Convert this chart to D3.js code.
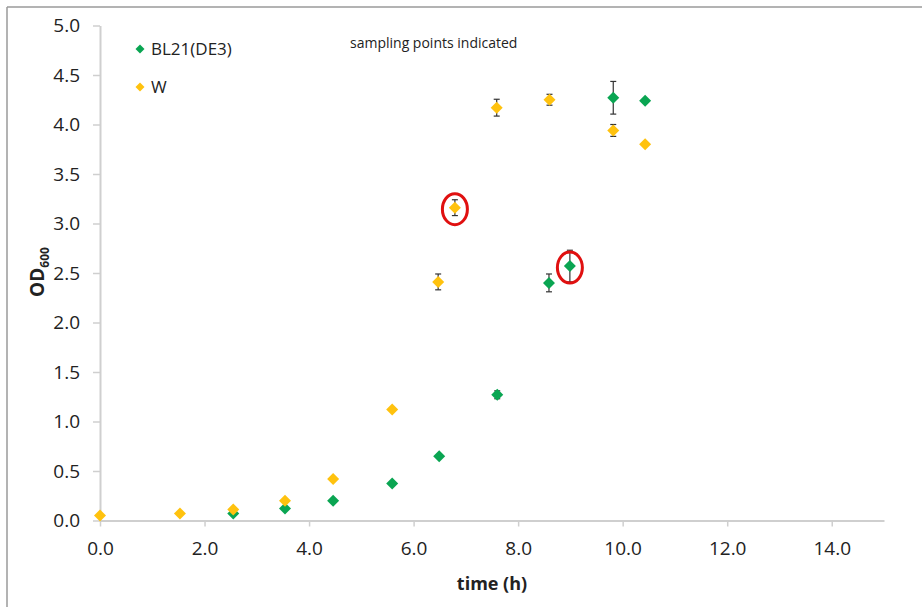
<!DOCTYPE html>
<html>
<head>
<meta charset="utf-8">
<script src="https://cdn.jsdelivr.net/npm/d3@7"></script>
<style>
  body { margin: 0; background: #fff; }
  svg { display: block; font-family: "Open Sans", sans-serif; }
</style>
</head>
<body>
<div id="chart"></div>
<script>
// OD600 over time, two strains
const blTime = [2.55, 3.54, 4.46, 5.59, 6.49, 7.6, 8.59, 8.99, 9.82, 10.43]
const blOD   = [0.07, 0.12, 0.20, 0.375, 0.65, 1.27, 2.40, 2.57, 4.27, 4.24]
const blErr  = [0, 0, 0, 0, 0, 0.04, 0.09, 0.16, 0.165, 0]

const wTime = [0, 1.53, 2.55, 3.54, 4.46, 5.59, 6.47, 6.79, 7.59, 8.6, 9.82, 10.43]
const wOD   = [0.05, 0.07, 0.11, 0.20, 0.42, 1.12, 2.41, 3.16, 4.17, 4.25, 3.94, 3.80]
const wErr  = [0, 0, 0, 0, 0, 0, 0.08, 0.08, 0.085, 0.055, 0.06, 0]

// circled sampling points: [series, index]
const sampled = [["W", 7], ["BL21(DE3)", 7]]

const xTicks = [0, 2, 4, 6, 8, 10, 12, 14]
const yTicks = [0, 0.5, 1, 1.5, 2, 2.5, 3, 3.5, 4, 4.5, 5]

const series = [
  {name: "BL21(DE3)", color: "#0aa552", time: blTime, od: blOD, err: blErr},
  {name: "W", color: "#ffc20e", time: wTime, od: wOD, err: wErr}
]

const width = 922, height = 607
const margin = {top: 25.5, right: 38, bottom: 86.5, left: 100}

const svg = d3.select("#chart").append("svg")
  .attr("width", width)
  .attr("height", height)

// outer frame (cut off at right/bottom)
svg.append("line").attr("x1", 7).attr("x2", width).attr("y1", 7).attr("y2", 7)
  .attr("stroke", "#9a9a9a").attr("stroke-width", 1.5)
svg.append("line").attr("x1", 7).attr("x2", 7).attr("y1", 7).attr("y2", height)
  .attr("stroke", "#9a9a9a").attr("stroke-width", 1.5)

const x = d3.scaleLinear().domain([0, 15]).range([margin.left, width - margin.right])
const y = d3.scaleLinear().domain([0, 5]).range([height - margin.bottom, margin.top])

const axisColor = "#cfcfcf"

const gX = svg.append("g")
  .attr("transform", `translate(0,${y(0)})`)
  .call(d3.axisBottom(x).tickValues(xTicks).tickFormat(d3.format(".1f")).tickSize(6).tickSizeOuter(0))
gX.select(".domain").attr("stroke", axisColor).attr("stroke-width", 2)
gX.selectAll(".tick line").attr("stroke", axisColor).attr("stroke-width", 1.5)
gX.selectAll(".tick text").attr("fill", "#222").attr("font-size", 19)
  .attr("font-family", "'Open Sans', sans-serif").attr("dy", "1.35em")

const gY = svg.append("g")
  .attr("transform", `translate(${x(0)},0)`)
  .call(d3.axisLeft(y).tickValues(yTicks).tickFormat(d3.format(".1f")).tickSize(7).tickSizeOuter(0))
gY.select(".domain").attr("stroke", axisColor).attr("stroke-width", 2)
gY.selectAll(".tick text").attr("fill", "#222").attr("font-size", 19)
  .attr("font-family", "'Open Sans', sans-serif").attr("x", -20)
gY.selectAll(".tick line").attr("stroke", axisColor).attr("stroke-width", 1.5)

// axis titles
svg.append("text")
  .attr("x", 492).attr("y", 590)
  .attr("text-anchor", "middle")
  .attr("font-size", 18).attr("font-weight", "bold").attr("fill", "#222")
  .text("time (h)")

const yTitle = svg.append("text")
  .attr("transform", "translate(44,272) rotate(-90)")
  .attr("text-anchor", "middle")
  .attr("font-size", 19).attr("font-weight", "bold").attr("fill", "#222")
yTitle.append("tspan").text("OD")
yTitle.append("tspan").attr("font-size", 12).attr("dy", 5).text("600")

svg.append("text")
  .attr("x", 350).attr("y", 48)
  .attr("font-size", 14).attr("fill", "#222")
  .text("sampling points indicated")

const diamond = r => `M0,${-r}L${r},0L0,${r}L${-r},0Z`

series.forEach(s => {
  const pts = s.time.map((t, i) => ({t, v: s.od[i], e: s.err[i]}))
  const g = svg.append("g")

  const bars = g.selectAll(".err").data(pts.filter(p => p.e > 0)).enter().append("g")
    .attr("stroke", "#333").attr("stroke-width", 1.2)
  bars.append("line")
    .attr("x1", p => x(p.t)).attr("x2", p => x(p.t))
    .attr("y1", p => y(p.v + p.e)).attr("y2", p => y(p.v - p.e))
  bars.append("line")
    .attr("x1", p => x(p.t) - 3).attr("x2", p => x(p.t) + 3)
    .attr("y1", p => y(p.v + p.e)).attr("y2", p => y(p.v + p.e))
  bars.append("line")
    .attr("x1", p => x(p.t) - 3).attr("x2", p => x(p.t) + 3)
    .attr("y1", p => y(p.v - p.e)).attr("y2", p => y(p.v - p.e))

  g.selectAll(".pt").data(pts).enter().append("path")
    .attr("d", diamond(6))
    .attr("transform", p => `translate(${x(p.t)},${y(p.v)})`)
    .attr("fill", s.color)
})

// red rings around sampling points
sampled.forEach(([name, i]) => {
  const s = series.find(d => d.name === name)
  svg.append("ellipse")
    .attr("cx", x(s.time[i])).attr("cy", y(s.od[i]) + 1.5)
    .attr("rx", 12.5).attr("ry", 15.5)
    .attr("fill", "none").attr("stroke", "#e01010").attr("stroke-width", 3)
})

// legend
const legend = svg.append("g").selectAll("g").data(series).enter().append("g")
  .attr("transform", (d, i) => `translate(140,${49 + i * 38})`)
legend.append("path").attr("d", diamond(4.5)).attr("fill", d => d.color)
legend.append("text").attr("x", 11).attr("dy", "0.35em")
  .attr("font-size", 17).attr("fill", "#222")
  .text(d => d.name)
</script>
</body>
</html>
